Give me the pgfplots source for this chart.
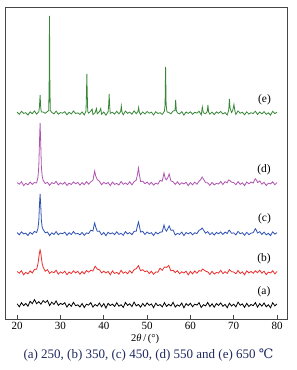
\documentclass[border=0pt]{standalone}
\usepackage{fontspec}
\setmainfont{Liberation Serif}
\newfontfamily\dejavu{DejaVu Serif}
\usepackage{pgfplots}
\pgfplotsset{compat=1.18}
\definecolor{cgreen}{RGB}{55,135,55}
\definecolor{cpurple}{RGB}{175,85,175}
\definecolor{cblue}{RGB}{45,80,180}
\definecolor{cred}{RGB}{235,45,45}
\definecolor{capblue}{RGB}{30,40,95}
\definecolor{framegray}{RGB}{70,70,70}
\begin{document}
\begin{tikzpicture}
\begin{axis}[name=ax,
  scale only axis, width=282pt, height=312pt,
  xmin=17.2, xmax=82.3, ymin=0, ymax=312,
  ytick=\empty, xtick={20,30,...,80},
  xtick pos=bottom, tick align=inside, major tick length=4pt,
  axis line style={framegray, line width=0.6pt},
  every tick/.style={framegray, line width=0.6pt},
  /pgf/number format/assume math mode=true,
  ticklabel style={font=\fontsize{11}{13}\selectfont},
  xlabel={2\textit{θ}\,/\,(°)},
  every axis x label/.style={at={(axis description cs:0.497,0)}, yshift=-20pt, anchor=center, font=\fontsize{10.5}{12}\selectfont},
  clip=false,
]
% (a) 250
\addplot[black, line width=0.8pt] coordinates {
(20.0,15.2) (20.5,12.2) (21.0,16.3) (21.5,13.4) (22.0,15.5) (22.5,12.8) (23.0,17.7) (23.5,15.3) (24.0,19.4) (24.5,15.3)
(25.0,17.3) (25.5,14.8) (26.0,18.4) (26.5,16.4) (27.0,18.6) (27.5,13.4) (28.0,16.9) (28.5,14.6) (29.0,18.1) (29.5,13.6)
(30.0,15.6) (30.5,14.5) (31.0,16.3) (31.5,11.9) (32.0,15.1) (32.5,12.7) (33.0,16.7) (33.5,13.3) (34.0,14.2) (34.5,12.1)
(35.0,15.5) (35.5,11.5) (36.0,14.8) (36.5,13.9) (37.0,16.4) (37.5,11.9) (38.0,14.5) (38.5,12.9) (39.0,16.0) (39.5,12.2)
(40.0,15.4) (40.5,11.0) (41.0,15.7) (41.5,13.4) (42.0,14.9) (42.5,12.5) (43.0,16.3) (43.5,12.8) (44.0,14.3) (44.5,11.6)
(45.0,16.6) (45.5,13.6) (46.0,15.2) (46.5,12.4) (47.0,16.9) (47.5,13.1) (48.0,14.6) (48.5,11.8) (49.0,15.5) (49.5,12.7)
(50.0,16.1) (50.5,13.7) (51.0,15.1) (51.5,11.3) (52.0,15.8) (52.5,13.3) (53.0,14.5) (53.5,12.1) (54.0,16.4) (54.5,12.5)
(55.0,14.8) (55.5,13.0) (56.0,16.7) (56.5,11.9) (57.0,14.2) (57.5,12.8) (58.0,16.0) (58.5,11.2) (59.0,15.4) (59.5,13.4)
(60.0,15.7) (60.5,12.2) (61.0,14.9) (61.5,13.9) (62.0,16.3) (62.5,11.5) (63.0,14.3) (63.5,13.1) (64.0,16.6) (64.5,12.4)
(65.0,15.2) (65.5,11.8) (66.0,15.5) (66.5,13.6) (67.0,16.1) (67.5,12.7) (68.0,14.6) (68.5,11.3) (69.0,15.8) (69.5,13.0)
(70.0,14.8) (70.5,12.1) (71.0,16.9) (71.5,13.7) (72.0,15.1) (72.5,11.6) (73.0,15.7) (73.5,12.5) (74.0,14.5) (74.5,13.3)
(75.0,16.4) (75.5,11.9) (76.0,15.4) (76.5,12.8) (77.0,16.0) (77.5,12.2) (78.0,14.3) (78.5,11.2) (79.0,16.3) (79.5,13.1)
(80.0,15.2)};
% (b) 350
\addplot[cred, line width=0.8pt] coordinates {
(20.0,47.5) (20.5,45.8) (21.0,48.3) (21.5,44.2) (22.0,46.7) (22.5,45.1) (23.0,48.1) (23.5,46.0) (24.0,49.6) (24.5,49.8)
(24.8,55.0) (25.0,61.5) (25.15,66.0) (25.3,69.0) (25.45,66.5) (25.6,61.0) (25.8,55.0) (26.0,51.9) (26.5,47.8) (27.0,49.3)
(27.5,45.6) (28.0,47.3) (28.5,46.3) (29.0,48.8) (29.5,44.9) (30.0,47.1) (30.5,45.7) (31.0,47.9) (31.5,44.3) (32.0,47.0)
(32.5,45.4) (33.0,48.2) (33.5,46.1) (34.0,47.7) (34.5,44.7) (35.0,47.5) (35.5,45.2) (36.0,48.5) (36.5,46.8) (37.0,48.7)
(37.5,48.0) (38.0,52.8) (38.5,49.9) (39.0,49.2) (39.5,46.1) (40.0,47.8) (40.5,46.0) (41.0,47.6) (41.5,44.2) (42.0,48.1)
(42.5,45.5) (43.0,46.6) (43.5,44.8) (44.0,48.7) (44.5,45.7) (45.0,47.1) (45.5,45.3) (46.0,48.4) (46.5,45.9) (47.0,49.4)
(47.5,50.4) (48.0,53.4) (48.5,48.3) (49.0,49.3) (49.5,47.3) (50.0,48.2) (50.5,45.4) (51.0,47.7) (51.5,44.7) (52.0,47.0)
(52.5,46.8) (53.0,50.8) (53.5,48.7) (54.0,52.0) (54.5,51.6) (55.0,53.5) (55.5,48.1) (56.0,48.7) (56.5,46.5) (57.0,48.3)
(57.5,45.3) (58.0,47.2) (58.5,46.0) (59.0,47.8) (59.5,44.1) (60.0,47.6) (60.5,45.1) (61.0,48.1) (61.5,45.7) (62.0,48.4)
(62.5,47.8) (62.75,50.0) (63.0,49.5) (63.5,47.9) (64.0,47.1) (64.5,44.5) (65.0,47.7) (65.5,44.9) (66.0,46.6) (66.5,45.9)
(67.0,48.7) (67.5,45.4) (68.0,47.3) (68.5,45.6) (69.0,49.4) (69.5,47.3) (70.0,47.0) (70.5,45.2) (71.0,48.5) (71.5,45.5)
(72.0,47.2) (72.5,44.2) (73.0,48.2) (73.5,46.1) (74.0,47.6) (74.5,45.7) (75.0,48.2) (75.5,46.3) (76.0,48.8) (76.5,45.8)
(77.0,47.8) (77.5,44.3) (78.0,46.9) (78.5,46.0) (79.0,48.3) (79.5,45.1) (80.0,47.5)};
% (c) 450
\addplot[cblue, line width=0.8pt] coordinates {
(20.0,86.4) (20.5,84.2) (21.0,87.2) (21.5,85.1) (22.0,85.8) (22.5,83.5) (23.0,86.7) (23.5,84.8) (24.0,87.6) (24.5,86.4)
(24.8,90.5) (25.0,97.7) (25.15,113.5) (25.3,125.0) (25.45,113.5) (25.6,98.5) (25.8,91.5) (26.0,89.5) (26.5,86.2) (27.0,87.0)
(27.5,83.4) (28.0,86.2) (28.5,84.6) (29.0,87.4) (29.5,84.3) (30.0,85.9) (30.5,85.3) (31.0,86.8) (31.5,83.7) (32.0,86.3)
(32.5,84.5) (33.0,87.5) (33.5,85.0) (34.0,85.6) (34.5,84.1) (35.0,86.6) (35.5,83.6) (36.0,86.1) (36.5,85.4) (37.0,88.8)
(37.5,88.0) (37.75,93.5) (37.9,96.0) (38.1,92.5) (38.5,87.7) (39.0,87.9) (39.5,84.2) (40.0,86.5) (40.5,83.3) (41.0,86.7)
(41.5,85.1) (42.0,86.2) (42.5,84.4) (43.0,87.2) (43.5,84.6) (44.0,85.7) (44.5,83.7) (45.0,87.4) (45.5,85.2) (46.0,86.4)
(46.5,84.3) (47.0,87.6) (47.5,87.8) (47.8,93.5) (48.0,97.0) (48.2,93.5) (48.5,86.9) (49.0,87.6) (49.5,84.5) (50.0,87.0)
(50.5,85.3) (51.0,86.3) (51.5,83.5) (52.0,86.8) (52.5,85.0) (53.0,86.8) (53.5,87.1) (53.9,94.0) (54.2,89.5) (54.5,87.9)
(54.8,90.5) (55.1,93.0) (55.5,88.7) (56.0,89.0) (56.5,84.0) (57.0,85.6) (57.5,84.6) (58.0,86.9) (58.5,83.4) (59.0,86.5)
(59.5,85.1) (60.0,86.7) (60.5,84.2) (61.0,86.2) (61.5,85.4) (62.0,88.7) (62.4,89.5) (62.7,91.0) (63.0,89.2) (63.5,85.8)
(64.0,87.4) (64.5,84.3) (65.0,86.4) (65.5,83.9) (66.0,86.6) (66.5,85.2) (67.0,87.0) (67.5,84.5) (68.0,86.9) (68.5,85.5)
(68.8,88.0) (69.0,88.8) (69.5,85.7) (70.0,86.1) (70.5,84.1) (71.0,87.6) (71.5,85.3) (72.0,86.3) (72.5,83.7) (73.0,86.7)
(73.5,84.4) (74.0,85.8) (74.5,86.4) (75.0,90.3) (75.2,89.0) (75.5,86.0) (76.0,87.3) (76.5,84.6) (77.0,86.9) (77.5,84.2)
(78.0,85.7) (78.5,83.4) (79.0,87.2) (79.5,84.8) (80.0,86.4)};
% (d) 550
\addplot[cpurple, line width=0.8pt] coordinates {
(20.0,136.4) (20.5,134.8) (21.0,137.2) (21.5,133.4) (22.0,135.7) (22.5,134.2) (23.0,136.9) (23.5,134.6) (24.0,136.5) (24.5,136.0)
(24.8,141.5) (25.0,152.3) (25.15,175.5) (25.3,196.0) (25.45,175.5) (25.6,151.5) (25.8,142.5) (26.0,138.8) (26.5,135.4) (27.0,136.7)
(27.5,133.7) (28.0,136.3) (28.5,135.3) (29.0,137.6) (29.5,134.1) (30.0,136.1) (30.5,134.7) (31.0,136.8) (31.5,133.5) (32.0,135.9)
(32.5,134.5) (33.0,137.0) (33.5,135.2) (34.0,136.6) (34.5,133.9) (35.0,136.4) (35.5,134.3) (36.0,137.4) (36.5,134.8) (37.0,137.2)
(37.5,138.6) (37.75,144.5) (37.9,148.0) (38.1,143.5) (38.5,139.4) (39.0,137.7) (39.5,134.2) (40.0,136.7) (40.5,135.1) (41.0,136.5)
(41.5,133.4) (42.0,136.9) (42.5,134.6) (43.0,135.6) (43.5,134.0) (44.0,137.5) (44.5,134.7) (45.0,136.1) (45.5,134.4) (46.0,137.3)
(46.5,134.1) (47.0,137.3) (47.5,138.9) (47.8,145.0) (48.0,151.0) (48.2,145.0) (48.5,137.5) (49.0,137.8) (49.5,135.3) (50.0,137.0)
(50.5,134.5) (51.0,136.6) (51.5,133.9) (52.0,135.9) (52.5,134.8) (53.0,138.6) (53.5,137.8) (53.9,146.0) (54.2,140.5) (54.5,139.2)
(54.8,141.5) (55.1,145.0) (55.5,138.2) (56.0,137.2) (56.5,134.6) (57.0,137.2) (57.5,134.4) (58.0,136.2) (58.5,135.1) (59.0,136.7)
(59.5,133.3) (60.0,136.5) (60.5,134.2) (61.0,136.9) (61.5,134.7) (62.0,137.8) (62.4,139.5) (62.7,142.0) (63.0,140.0) (63.5,136.4)
(64.0,136.1) (64.5,133.6) (65.0,136.6) (65.5,134.1) (66.0,135.6) (66.5,135.0) (67.0,137.5) (67.5,134.5) (68.0,137.3) (68.5,136.2)
(68.8,139.0) (69.0,138.8) (69.5,136.8) (70.0,136.4) (70.5,134.3) (71.0,137.4) (71.5,134.6) (72.0,136.2) (72.5,133.4) (73.0,137.0)
(73.5,135.2) (74.0,137.0) (74.5,135.9) (74.8,139.0) (75.0,140.2) (75.3,138.5) (75.5,136.4) (76.0,138.1) (76.5,134.8) (77.0,136.7)
(77.5,133.5) (78.0,135.8) (78.5,135.1) (79.0,137.2) (79.5,134.2) (80.0,136.4)};
% (e) 650
\addplot[cgreen, line width=0.8pt] coordinates {
(20.0,206.9) (20.5,204.7) (21.0,207.7) (21.5,205.6) (22.0,206.3) (22.5,204.0) (23.0,207.2) (23.5,205.3) (24.0,208.1) (24.5,204.9)
(25.0,207.2) (25.15,212.0) (25.3,224.0) (25.45,211.0) (25.6,207.0) (26.0,207.0) (26.5,205.7) (27.0,207.5) (27.3,208.5) (27.4,240.0)
(27.47,303.0) (27.55,240.0) (27.65,208.5) (28.0,206.7) (28.5,205.1) (29.0,207.9) (29.5,204.8) (30.0,206.4) (30.5,205.8) (31.0,207.3)
(31.5,204.2) (32.0,206.8) (32.5,205.0) (33.0,208.0) (33.5,205.5) (34.0,206.1) (34.5,204.6) (35.0,207.1) (35.5,204.1) (35.9,208.0)
(36.02,228.0) (36.1,245.0) (36.18,226.0) (36.3,207.5) (36.5,205.9) (37.0,207.8) (37.3,210.0) (37.5,204.5) (38.0,206.3) (38.3,210.5)
(38.5,205.2) (39.0,207.4) (39.3,210.5) (39.5,204.7) (40.0,207.0) (40.5,203.8) (41.0,207.2) (41.15,215.0) (41.25,225.0) (41.35,214.0)
(41.5,205.6) (42.0,206.7) (42.5,204.9) (43.0,207.7) (43.5,205.1) (43.9,207.5) (44.05,213.0) (44.2,207.0) (44.5,204.2) (45.0,207.9)
(45.5,205.7) (46.0,206.9) (46.5,204.8) (47.0,208.1) (47.5,205.3) (47.9,207.5) (48.05,211.5) (48.2,207.0) (48.5,204.4) (49.0,207.1)
(49.5,205.0) (50.0,207.5) (50.5,205.8) (51.0,206.8) (51.5,204.0) (52.0,207.3) (52.5,205.5) (53.0,206.3) (53.5,204.6) (54.0,207.8)
(54.15,214.0) (54.27,252.0) (54.4,214.0) (54.6,207.0) (55.0,206.6) (55.5,205.2) (56.0,208.0) (56.45,208.5) (56.6,219.0) (56.75,208.5)
(57.0,206.1) (57.5,205.1) (58.0,207.4) (58.5,203.9) (59.0,207.0) (59.5,205.6) (60.0,207.2) (60.5,204.7) (61.0,206.7) (61.5,205.9)
(62.0,207.7) (62.5,204.1) (62.75,212.0) (63.0,206.2) (63.5,205.3) (63.9,207.5) (64.05,214.0) (64.2,207.0) (64.5,204.8) (65.0,206.9)
(65.5,204.4) (66.0,207.1) (66.5,205.7) (67.0,207.5) (67.5,205.0) (68.0,206.4) (68.5,204.0) (68.85,209.0) (69.0,220.0) (69.15,211.0)
(69.5,206.5) (69.8,209.0) (70.05,214.5) (70.3,207.5) (70.5,204.6) (71.0,208.1) (71.5,205.8) (72.0,206.8) (72.5,204.2) (73.0,207.2)
(73.5,204.9) (74.0,206.3) (74.5,205.5) (75.0,207.8) (75.5,204.5) (76.0,207.0) (76.5,205.1) (77.0,207.4) (77.5,204.7) (78.0,206.2)
(78.5,203.9) (79.0,207.7) (79.5,205.3) (80.0,206.9)};
\begin{scope}[every node/.style={font=\fontsize{11.5}{13}\selectfont}]
\node at (axis cs:77.1,219) {(e)};
\node at (axis cs:77.0,149) {(d)};
\node at (axis cs:77.1,100) {(c)};
\node at (axis cs:77.0,60) {(b)};
\node at (axis cs:77.0,27) {(a)};
\end{scope}
\end{axis}
\node[text=capblue, font=\fontsize{13}{15}\selectfont] at ([xshift=2.5pt, yshift=-36pt]ax.south) {(a) 250, (b) 350, (c) 450, (d) 550 and (e) 650 {\dejavu ℃}};
\path ([shift={(-5pt,-51pt)}]ax.south west) rectangle ([shift={(10pt,7pt)}]ax.north east);
\end{tikzpicture}
\end{document}
